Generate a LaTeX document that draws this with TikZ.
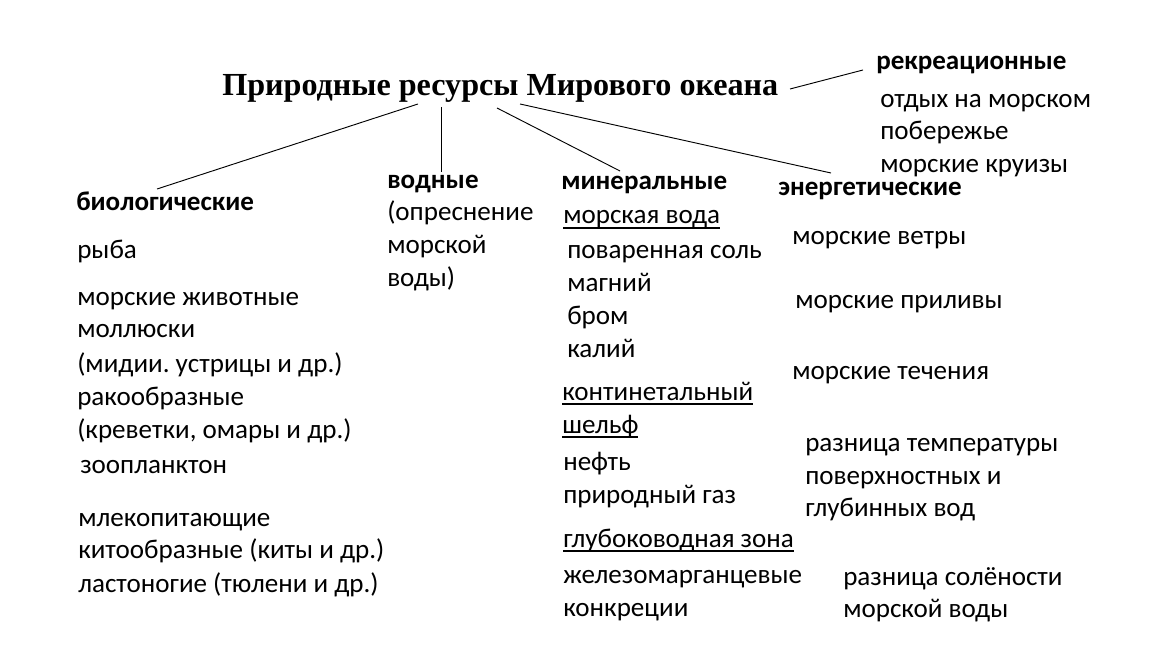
\documentclass[tikz,border=0pt]{standalone}
\usepackage{fontspec}
\setmainfont{Carlito}
\newfontfamily\titlefont{Liberation Serif}
\newcommand{\ulx}[1]{\setbox0\hbox{#1}\rlap{\rule[-3.6pt]{\wd0}{1.1pt}}\box0}
\frenchspacing
\begin{document}
\begin{tikzpicture}[x=0.75pt,y=-0.75pt,
  txt/.style={anchor=base west, inner sep=0pt, font=\fontsize{20.3}{24}\selectfont},
  hdr/.style={txt, font=\fontsize{20.3}{24}\selectfont\bfseries},
  ttl/.style={anchor=base west, inner sep=0pt, font=\fontsize{24.1}{29}\selectfont\titlefont\bfseries},
  conn/.style={draw=black, line width=0.7pt}]
\useasboundingbox[fill=white] (0,0) rectangle (1152,648);
% title
\node[ttl] (title) at (222,96) {Природные ресурсы Мирового океана};
% recreational
\node[hdr] (rec) at (876,70) {рекреационные};
\node[txt] (rec1) at (880,108) {отдых на морском};
\node[txt] (rec2) at (880,140) {побережье};
\node[txt] (rec3) at (880,173) {морские круизы};
% biological
\node[hdr] (bio) at (76,211) {биологические};
\node[txt] (b1) at (77,259) {рыба};
\node[txt] (b2) at (77,306) {морские животные};
\node[txt] (b3) at (77,338) {моллюски};
\node[txt] (b4) at (77,372) {(мидии. устрицы и др.)};
\node[txt] (b5) at (77,405) {ракообразные};
\node[txt] (b6) at (77,438) {(креветки, омары и др.)};
\node[txt] (b7) at (80,473) {зоопланктон};
\node[txt] (b8) at (78,526) {млекопитающие};
\node[txt] (b9) at (78,558) {китообразные (киты и др.)};
\node[txt] (b10) at (78,592) {ластоногие (тюлени и др.)};
% water
\node[hdr] (wat) at (387,189) {водные};
\node[txt] (w1) at (387,221) {(опреснение};
\node[txt] (w2) at (387,254) {морской};
\node[txt] (w3) at (387,287) {воды)};
% mineral
\node[hdr] (min) at (561,190) {минеральные};
\node[txt] (m1) at (563,224) {\ulx{морская вода}};
\node[txt] (m2) at (567,259) {поваренная соль};
\node[txt] (m3) at (567,292) {магний};
\node[txt] (m4) at (567,325) {бром};
\node[txt] (m5) at (567,358) {калий};
\node[txt] (m6) at (562,400) {\ulx{континетальный}};
\node[txt] (m7) at (562,433) {\ulx{шельф}};
\node[txt] (m8) at (563,470) {нефть};
\node[txt] (m9) at (563,503) {природный газ};
\node[txt] (m10) at (563,547) {\ulx{глубоководная зона}};
\node[txt] (m11) at (563,583) {железомарганцевые};
\node[txt] (m12) at (563,616) {конкреции};
% energy
\node[hdr] (en) at (778,196) {энергетические};
\node[txt] (e1) at (792,245) {морские ветры};
\node[txt] (e2) at (795,309) {морские приливы};
\node[txt] (e3) at (792,379) {морские течения};
\node[txt] (e4) at (805,451) {разница температуры};
\node[txt] (e5) at (805,484) {поверхностных и};
\node[txt] (e6) at (805,516) {глубинных вод};
\node[txt] (e7) at (843,585) {разница солёности};
\node[txt] (e8) at (843,617) {морской воды};
% connector end points
\coordinate (tb) at (418,104);
\coordinate (tw) at (441,107);
\coordinate (tm) at (497,108);
\coordinate (te) at (520,104);
\coordinate (tr) at (790,89);
\coordinate (bioE) at (157,189);
\coordinate (watE) at (441,172);
\coordinate (minE) at (620,171);
\coordinate (enE) at (831,173);
\coordinate (recE) at (863,70);
\draw[conn] (tb) -- (bioE);
\draw[conn] (tw) -- (watE);
\draw[conn] (tm) -- (minE);
\draw[conn] (te) -- (enE);
\draw[conn] (tr) -- (recE);
\end{tikzpicture}
\end{document}
